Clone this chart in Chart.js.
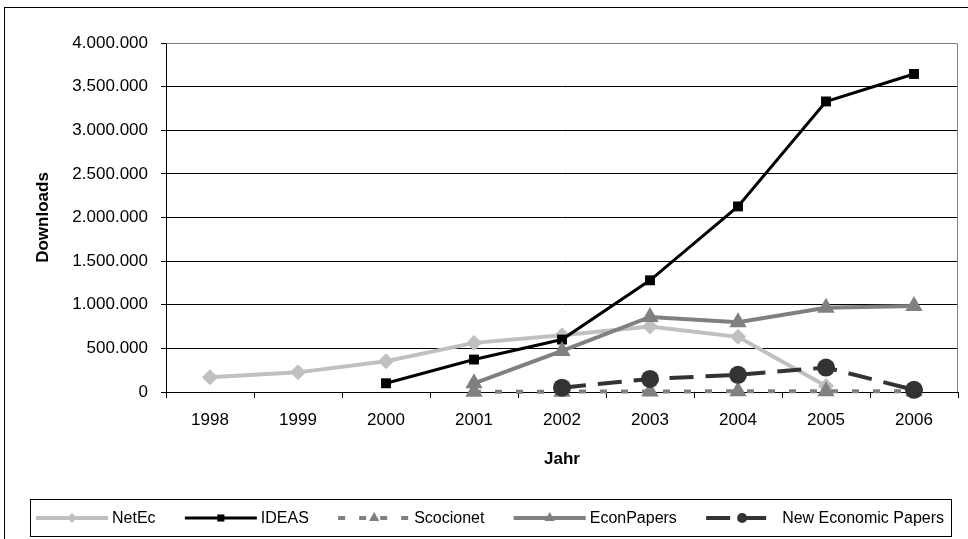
<!DOCTYPE html>
<html>
<head>
<meta charset="utf-8">
<title>Downloads</title>
<script src="https://cdn.jsdelivr.net/npm/chart.js@4/dist/chart.umd.min.js"></script>
<style>
  html, body { margin: 0; padding: 0; background: #fff; }
  #wrap { width: 968px; height: 539px; position: relative; }
</style>
</head>
<body>
<div id="wrap"><canvas id="downloadsChart"></canvas></div>
<script>
const years = ['1998', '1999', '2000', '2001', '2002', '2003', '2004', '2005', '2006'];

const netEc      = [170000, 225000, 352000, 563000, 650000, 750000, 632000, 70000, null];
const ideas      = [null, null, 100000, 372000, 601000, 1280000, 2127000, 3330000, 3645000];
const scocionet  = [null, null, null, 2000, 4000, 6000, 8000, 9000, 10000];
const econPapers = [null, null, null, 100000, 470000, 860000, 800000, 965000, 985000];
const nep        = [null, null, null, null, 50000, 150000, 197000, 280000, 25000];

const yMax = 4000000;
const yStep = 500000;

const FONT = '"Liberation Sans", Arial, sans-serif';

function dotted(n) {
  return String(n).replace(/\B(?=(\d{3})+(?!\d))/g, '.');
}

// white page, outer frame and the grey box around the plot
const framePlugin = {
  id: 'frame',
  beforeDraw(chart) {
    const ctx = chart.ctx;
    ctx.save();
    ctx.fillStyle = '#fff';
    ctx.fillRect(0, 0, chart.width, chart.height);
    ctx.strokeStyle = '#000';
    ctx.lineWidth = 1;
    ctx.strokeRect(4.5, 7.5, 1000, 1000);
    ctx.restore();
  },
  beforeDatasetsDraw(chart) {
    const { ctx, chartArea: a } = chart;
    ctx.save();
    ctx.strokeStyle = '#808080';
    ctx.lineWidth = 1;
    ctx.beginPath();
    ctx.moveTo(Math.round(a.left) + 0.5, Math.round(a.top) + 0.5);
    ctx.lineTo(Math.round(a.right) - 0.5, Math.round(a.top) + 0.5);
    ctx.lineTo(Math.round(a.right) - 0.5, Math.round(a.bottom));
    ctx.stroke();
    ctx.restore();
  }
};

// one-row legend in a box under the axis title, line sample + marker per series
const lineLegend = {
  id: 'lineLegend',
  afterDraw(chart) {
    const ctx = chart.ctx;
    const sets = chart.data.datasets;
    ctx.save();
    ctx.strokeStyle = '#000';
    ctx.lineWidth = 1;
    ctx.strokeRect(30.5, 499.5, 921, 37);

    ctx.font = '16px ' + FONT;
    const lineLen = 72, gap = 4, startX = 36, endX = 944, y = 518;
    const widths = sets.map(ds => ctx.measureText(ds.label).width);
    const used = widths.reduce((a, b) => a + b, 0) + sets.length * (lineLen + gap);
    const spread = (endX - startX - used) / (sets.length - 1);

    let x = startX;
    sets.forEach((ds, i) => {
      ctx.beginPath();
      ctx.setLineDash(ds.borderDash || []);
      ctx.strokeStyle = ds.borderColor;
      ctx.lineWidth = ds.borderWidth;
      ctx.moveTo(x, y);
      ctx.lineTo(x + lineLen, y);
      ctx.stroke();
      ctx.setLineDash([]);

      ctx.fillStyle = ds.pointBackgroundColor;
      ctx.strokeStyle = ds.pointBorderColor;
      Chart.helpers.drawPoint(ctx, {
        pointStyle: ds.pointStyle,
        radius: ds.legendRadius,
        borderWidth: 0,
        rotation: 0
      }, x + lineLen / 2, y);

      ctx.fillStyle = '#000';
      ctx.textBaseline = 'middle';
      ctx.textAlign = 'left';
      ctx.fillText(ds.label, x + lineLen + gap, y + 1);
      x += lineLen + gap + widths[i] + spread;
    });
    ctx.restore();
  }
};

function series(label, data, color, width, dash, style, radius, legendRadius, order) {
  return {
    label,
    data,
    borderColor: color,
    backgroundColor: color,
    borderWidth: width,
    borderDash: dash,
    pointStyle: style,
    pointRadius: radius,
    pointBackgroundColor: color,
    pointBorderColor: color,
    pointBorderWidth: 0,
    legendRadius,
    tension: 0,
    spanGaps: false,
    clip: false,
    order
  };
}

const ctx = document.getElementById('downloadsChart').getContext('2d');
new Chart(ctx, {
  type: 'line',
  data: {
    labels: years,
    datasets: [
      series('NetEc', netEc, '#c0c0c0', 4, [], 'rectRot', 8, 5, 5),
      series('IDEAS', ideas, '#000000', 3, [], 'rect', 7, 5, 4),
      series('Scocionet', scocionet, '#808080', 4, [7, 14], 'triangle', 10, 6, 3),
      series('EconPapers', econPapers, '#808080', 4, [], 'triangle', 10, 6, 2),
      series('New Economic Papers', nep, '#333333', 4, [24, 12], 'circle', 9, 5, 1)
    ]
  },
  options: {
    responsive: true,
    maintainAspectRatio: false,
    animation: false,
    events: [],
    layout: { padding: { left: 0, top: 43, right: 10, bottom: 0 } },
    plugins: {
      legend: { display: false },
      tooltip: { enabled: false }
    },
    scales: {
      x: {
        offset: true,
        afterFit(scale) { scale.height = 147; },
        grid: {
          offset: true,
          drawOnChartArea: false,
          drawTicks: true,
          tickLength: 6,
          color: '#000',
          lineWidth: 1
        },
        border: { display: true, color: '#000', width: 1 },
        ticks: {
          color: '#000',
          font: { family: FONT, size: 17 },
          padding: 12,
          maxRotation: 0,
          autoSkip: false
        },
        title: {
          display: true,
          text: 'Jahr',
          color: '#000',
          font: { family: FONT, size: 17, weight: 'bold' },
          padding: { top: 0, bottom: 69 }
        }
      },
      y: {
        min: 0,
        max: yMax,
        afterFit(scale) { scale.width = 166; },
        grid: {
          color: (c) => (c.tick && c.tick.value === yMax ? 'rgba(0,0,0,0)' : '#000'),
          tickColor: '#000',
          lineWidth: 1,
          drawTicks: true,
          tickLength: 5
        },
        border: { display: true, color: '#000', width: 1 },
        ticks: {
          stepSize: yStep,
          color: '#000',
          font: { family: FONT, size: 17 },
          padding: 13,
          callback: (v) => dotted(v)
        },
        title: {
          display: true,
          text: 'Downloads',
          color: '#000',
          font: { family: FONT, size: 17, weight: 'bold' },
          padding: { top: 33, bottom: 0 }
        }
      }
    }
  },
  plugins: [framePlugin, lineLegend]
});
</script>
</body>
</html>
